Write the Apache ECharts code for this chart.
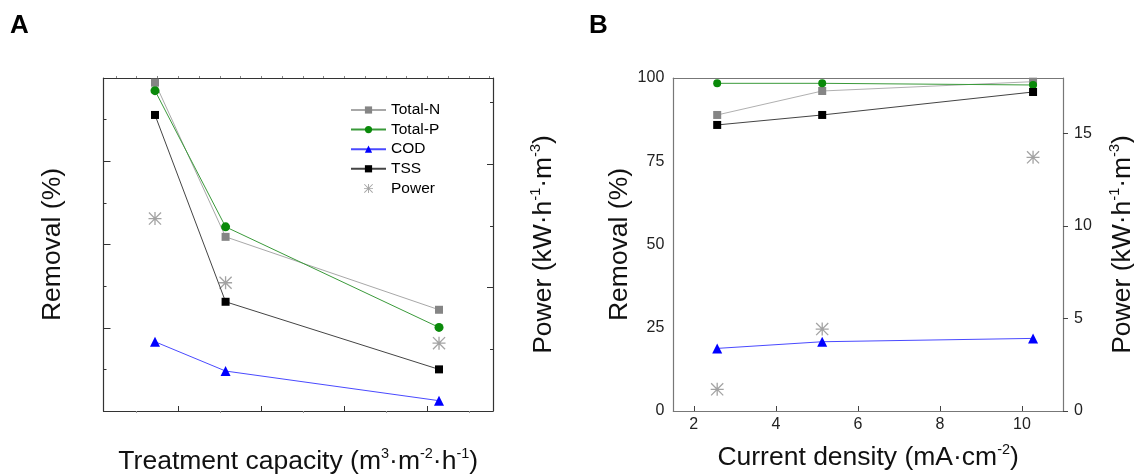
<!DOCTYPE html>
<html><head><meta charset="utf-8">
<script src="https://cdn.jsdelivr.net/npm/echarts@6/dist/echarts.min.js"></script>
<style>html,body{margin:0;padding:0;background:#fff}#c{width:1134px;height:474px}</style>
</head><body><div id="c"></div>
<script>
// ---------- Panel A data (treatment capacity, unlabeled axis units) ----------
const capacityA = [0.72, 1.57, 4.14];
const totalN_A = [98.6, 52.3, 30.4];
const totalP_A = [96.2, 55.3, 25.1];
const cod_A    = [20.8, 12.0, 3.1];
const tss_A    = [88.9, 32.8, 12.5];
const power_A  = [1.56, 1.04, 0.55];
// ---------- Panel B data (current density, mA/cm2) ----------
const densityB = [2.57, 5.13, 10.27];
const totalN_B = [88.9, 96.1, 98.9];
const totalP_B = [98.4, 98.4, 97.9];
const cod_B    = [18.8, 20.8, 21.8];
const tss_B    = [85.9, 88.9, 95.8];
const power_B  = [1.17, 4.43, 13.71];
// ---------- Tick positions ----------
const ticksXA_major = [1, 2, 3, 4];
const ticksXA_minor = [0.5, 1.5, 2.5, 3.5, 4.5];
const ticksXA_top = [0.25, 0.5, 0.75, 1, 1.25, 1.5, 1.75, 2, 2.25, 2.5, 2.75, 3, 3.25, 3.5, 3.75, 4, 4.25, 4.5, 4.75];
const ticksYA_right_major = [1, 2];
const ticksYA_right_minor = [0.5, 1.5, 2.5];
const labelsXB = [2, 4, 6, 8, 10];
const labelsYB_right = [0, 5, 10, 15];
const legendNames = ['Total-N', 'Total-P', 'COD', 'TSS', 'Power'];

const FF = "'Liberation Sans', Arial, Helvetica, sans-serif";
const rich = {
  t: {fontSize: 26.5, fontFamily: FF, color: '#111', lineHeight: 31},
  s: {fontSize: 14.5, fontFamily: FF, color: '#111', verticalAlign: 'top', lineHeight: 14}
};
const ASTER = 'path://M9 0L11 0L11 20L9 20Z M0 9L20 9L20 11L0 11Z M0 1.4L1.4 0L20 18.6L18.6 20Z M18.6 0L20 1.4L1.4 20L0 18.6Z';

const pts = (xs, ys) => xs.map((x, i) => [x, ys[i]]);
const none = {show: false};
function line(name, xs, ys, xi, yi, symbol, size, color, lineColor) {
  return {type: 'line', name, xAxisIndex: xi, yAxisIndex: yi, data: pts(xs, ys),
    symbol, symbolSize: size, showSymbol: true, clip: false,
    itemStyle: {color, borderWidth: 0}, lineStyle: {color: lineColor, width: 1},
    emphasis: {disabled: true}, z: 3};
}
function power(xs, ys, xi, yi) {
  return {type: 'scatter', name: 'Power', xAxisIndex: xi, yAxisIndex: yi, data: pts(xs, ys),
    symbol: ASTER, symbolSize: 13, itemStyle: {color: '#8c8c8c'}, emphasis: {disabled: true}, z: 2};
}

const colA = '#333', colB = '#777';
const option = {
  animation: false,
  backgroundColor: '#fff',
  title: [
    {text: 'A', left: 5, top: 8, textStyle: {fontSize: 26, fontWeight: 'bold', fontFamily: FF, color: '#000'}},
    {text: 'B', left: 584, top: 8, textStyle: {fontSize: 26, fontWeight: 'bold', fontFamily: FF, color: '#000'}}
  ],
  legend: {
    data: legendNames, orient: 'vertical', left: 345, top: 97,
    itemWidth: 35, itemHeight: 9, itemGap: 3.6,
    textStyle: {fontSize: 15.5, fontFamily: FF, color: '#000', lineHeight: 15},
    selectedMode: false
  },
  grid: [
    {left: 103.5, top: 78, width: 389.5, height: 333, outerBoundsMode: 'none', containLabel: false},
    {left: 673.3, top: 78, width: 389.7, height: 333, outerBoundsMode: 'none', containLabel: false}
  ],
  xAxis: [
    {type: 'value', gridIndex: 0, position: 'bottom', min: 0.1, max: 4.79,
      axisLine: {show: true, onZero: false, lineStyle: {color: colA, width: 1.2}},
      axisTick: {show: true, inside: true, length: 5, customValues: ticksXA_major, lineStyle: {color: colA}},
      axisLabel: none, splitLine: none,
      name: '{t|Treatment capacity (m}{s|3}{t|·m}{s|-2}{t|·h}{s|-1}{t|)}',
      nameLocation: 'middle', nameGap: 35, nameTextStyle: {rich}},
    {type: 'value', gridIndex: 0, position: 'bottom', min: 0.1, max: 4.79,
      axisLine: {show: false, onZero: false},
      axisTick: {show: true, inside: false, length: 2, customValues: ticksXA_minor, lineStyle: {color: '#999'}},
      axisLabel: none, splitLine: none},
    {type: 'value', gridIndex: 0, position: 'top', min: 0.1, max: 4.79,
      axisLine: {show: true, onZero: false, lineStyle: {color: colA, width: 1.2}},
      axisTick: {show: true, inside: false, length: 2, customValues: ticksXA_top, lineStyle: {color: '#888'}},
      axisLabel: none, splitLine: none},
    {type: 'value', gridIndex: 1, position: 'bottom', min: 1.5, max: 11,
      axisLine: {show: true, onZero: false, lineStyle: {color: colB, width: 1.2}},
      axisTick: {show: true, inside: true, length: 5, customValues: labelsXB, lineStyle: {color: '#444'}},
      axisLabel: {show: true, customValues: labelsXB, fontSize: 16, fontFamily: FF, color: '#222', margin: 6},
      splitLine: none,
      name: '{t|Current density (mA·cm}{s|-2}{t|)}',
      nameLocation: 'middle', nameGap: 31, nameTextStyle: {rich}},
    {type: 'value', gridIndex: 1, position: 'top', min: 1.5, max: 11,
      axisLine: {show: true, onZero: false, lineStyle: {color: colB, width: 1.2}},
      axisTick: none, axisLabel: none, splitLine: none}
  ],
  yAxis: [
    {type: 'value', gridIndex: 0, position: 'left', min: 0, max: 100, interval: 25,
      axisLine: {show: true, onZero: false, lineStyle: {color: colA, width: 1.2}},
      axisTick: {show: true, inside: true, length: 7, lineStyle: {color: colA}},
      minorTick: {show: true, splitNumber: 2, length: 3, lineStyle: {color: colA}},
      axisLabel: none, splitLine: none, minorSplitLine: none,
      name: '{t|Removal (%)}', nameLocation: 'middle', nameGap: 35, nameTextStyle: {rich}},
    {type: 'value', gridIndex: 0, position: 'right', min: 0, max: 2.7,
      axisLine: {show: true, onZero: false, lineStyle: {color: colA, width: 1.2}},
      axisTick: {show: true, inside: true, length: 6, customValues: ticksYA_right_major, lineStyle: {color: colA}},
      axisLabel: none, splitLine: none,
      name: '{t|Power (kW·h}{s|-1}{t|·m}{s|-3}{t|)}', nameLocation: 'middle', nameGap: 35, nameTextStyle: {rich}},
    {type: 'value', gridIndex: 0, position: 'right', min: 0, max: 2.7,
      axisLine: {show: false, onZero: false},
      axisTick: {show: true, inside: true, length: 3, customValues: ticksYA_right_minor, lineStyle: {color: colA}},
      axisLabel: none, splitLine: none},
    {type: 'value', gridIndex: 1, position: 'left', min: 0, max: 100, interval: 25,
      axisLine: {show: true, onZero: false, lineStyle: {color: colB, width: 1.2}},
      axisTick: none,
      axisLabel: {show: true, fontSize: 16, fontFamily: FF, color: '#222', margin: 9},
      splitLine: none,
      name: '{t|Removal (%)}', nameLocation: 'middle', nameGap: 38, nameTextStyle: {rich}},
    {type: 'value', gridIndex: 1, position: 'right', min: 0, max: 18,
      axisLine: {show: true, onZero: false, lineStyle: {color: colB, width: 1.2}},
      axisTick: {show: true, inside: false, length: 5, customValues: labelsYB_right, lineStyle: {color: '#444'}},
      axisLabel: {show: true, customValues: labelsYB_right, fontSize: 16, fontFamily: FF, color: '#222', margin: 11},
      splitLine: none,
      name: '{t|Power (kW·h}{s|-1}{t|·m}{s|-3}{t|)}', nameLocation: 'middle', nameGap: 44, nameTextStyle: {rich}}
  ],
  series: [
    line('Total-N', capacityA, totalN_A, 0, 0, 'rect', 8, '#858585', '#a8a8a8'),
    line('Total-P', capacityA, totalP_A, 0, 0, 'circle', 9, '#0a8a0a', '#3a9a3a'),
    line('COD', capacityA, cod_A, 0, 0, 'triangle', 10, '#0000ff', '#4a4aff'),
    line('TSS', capacityA, tss_A, 0, 0, 'rect', 8, '#000', '#444'),
    power(capacityA, power_A, 0, 1),
    line('Total-N', densityB, totalN_B, 3, 3, 'rect', 8, '#858585', '#b0b0b0'),
    line('Total-P', densityB, totalP_B, 3, 3, 'circle', 8, '#0a8a0a', '#3a9a3a'),
    line('COD', densityB, cod_B, 3, 3, 'triangle', 10, '#0000ff', '#4a4aff'),
    line('TSS', densityB, tss_B, 3, 3, 'rect', 8, '#000', '#444'),
    power(densityB, power_B, 3, 4)
  ]
};
const chart = echarts.init(document.getElementById('c'), null, {renderer: 'canvas'});
chart.setOption(option);
</script>
</body></html>
